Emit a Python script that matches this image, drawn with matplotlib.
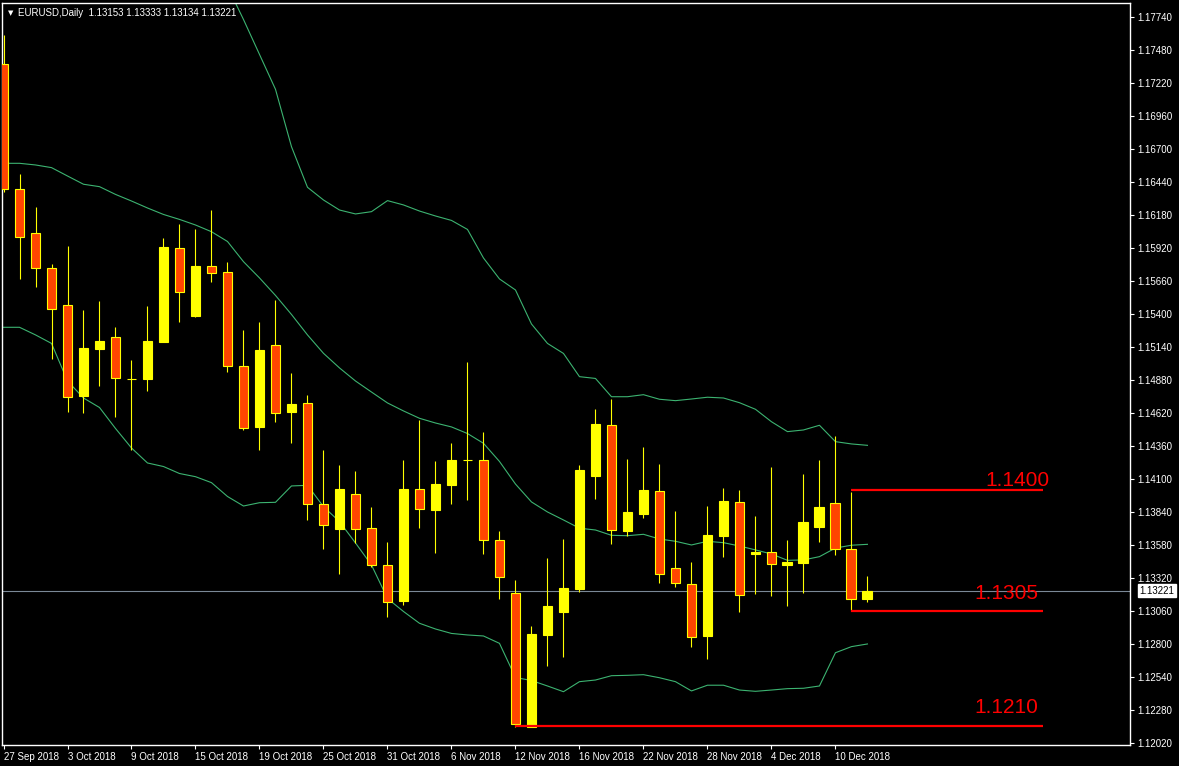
import numpy as np
import matplotlib.pyplot as plt
import matplotlib.transforms as mtransforms

# EURUSD daily, 27 Sep 2018 - 12 Dec 2018
opens = [1.17367, 1.16382, 1.16036, 1.15760, 1.15469, 1.14756, 1.15127, 1.15216, 1.14888, 1.14888,
         1.15179, 1.15918, 1.15384, 1.15776, 1.15728, 1.14988, 1.14510, 1.15153, 1.14630, 1.14696,
         1.13901, 1.13708, 1.13979, 1.13711, 1.13420, 1.13141, 1.14019, 1.13858, 1.14055, 1.14247,
         1.14247, 1.13617, 1.13199, 1.12148, 1.12873, 1.13054, 1.13233, 1.14126, 1.14523, 1.13693,
         1.13827, 1.14003, 1.13396, 1.13270, 1.12863, 1.13653, 1.13916, 1.13511, 1.13522, 1.13425,
         1.13440, 1.13724, 1.13908, 1.13546, 1.13153]
highs = [1.17598, 1.16503, 1.16243, 1.15794, 1.15936, 1.15431, 1.15502, 1.15297, 1.15038, 1.15463,
         1.15999, 1.16109, 1.16070, 1.16219, 1.15810, 1.15274, 1.15337, 1.15510, 1.14933, 1.14762,
         1.14328, 1.14210, 1.14163, 1.13879, 1.13604, 1.14250, 1.14565, 1.14242, 1.14384, 1.15022,
         1.14470, 1.13690, 1.13304, 1.12942, 1.13478, 1.13627, 1.14210, 1.14651, 1.14730, 1.14258,
         1.14352, 1.14218, 1.13848, 1.13446, 1.13887, 1.14029, 1.14013, 1.13808, 1.14192, 1.13619,
         1.14139, 1.14250, 1.14439, 1.14000, 1.13333]
lows = [1.16364, 1.15678, 1.15615, 1.15048, 1.14630, 1.14622, 1.14835, 1.14591, 1.14328, 1.14796,
        1.15179, 1.15339, 1.15379, 1.15654, 1.14945, 1.14486, 1.14328, 1.14551, 1.14386, 1.13777,
        1.13551, 1.13354, 1.13593, 1.13409, 1.13015, 1.13107, 1.13716, 1.13519, 1.13905, 1.13937,
        1.13511, 1.13157, 1.12148, 1.12148, 1.12629, 1.12700, 1.13212, 1.13945, 1.13590, 1.13651,
        1.13795, 1.13283, 1.13251, 1.12779, 1.12679, 1.13488, 1.13054, 1.13196, 1.13180, 1.13102,
        1.13204, 1.13606, 1.13504, 1.13062, 1.13134]
closes = [1.16382, 1.16009, 1.15760, 1.15437, 1.14748, 1.15130, 1.15187, 1.14893, 1.14888, 1.15187,
          1.15928, 1.15576, 1.15778, 1.15725, 1.14993, 1.14504, 1.15116, 1.14622, 1.14691, 1.13901,
          1.13735, 1.14019, 1.13708, 1.13420, 1.13128, 1.14019, 1.13861, 1.14058, 1.14250, 1.14247,
          1.13617, 1.13330, 1.12167, 1.12879, 1.13099, 1.13241, 1.14171, 1.14533, 1.13696, 1.13838,
          1.14013, 1.13349, 1.13278, 1.12857, 1.13659, 1.13927, 1.13184, 1.13525, 1.13428, 1.13448,
          1.13759, 1.13879, 1.13546, 1.13157, 1.13221]

# Bandas de Bollinger
bb_upper = [1.17879, 1.17879, 1.17913, 1.17938, 1.18102, 1.18106, 1.18143, 1.18186, 1.18236, 1.18244,
            1.18170, 1.18147, 1.18084, 1.18025, 1.17980, 1.17720, 1.17445, 1.17170, 1.16718, 1.16398,
            1.16298, 1.16219, 1.16188, 1.16206, 1.16293, 1.16259, 1.16211, 1.16172, 1.16137, 1.16066,
            1.15841, 1.15676, 1.15589, 1.15321, 1.15168, 1.15089, 1.14906, 1.14892, 1.14748, 1.14748,
            1.14764, 1.14728, 1.14717, 1.14730, 1.14744, 1.14738, 1.14701, 1.14649, 1.14551, 1.14473,
            1.14486, 1.14523, 1.14394, 1.14376, 1.14365]
bb_mid = [1.16587, 1.16587, 1.16574, 1.16553, 1.16487, 1.16422, 1.16403, 1.16342, 1.16290, 1.16235,
          1.16184, 1.16145, 1.16101, 1.16048, 1.15971, 1.15812, 1.15684, 1.15546, 1.15396, 1.15235,
          1.15090, 1.14975, 1.14872, 1.14785, 1.14699, 1.14636, 1.14578, 1.14541, 1.14510, 1.14458,
          1.14381, 1.14238, 1.14060, 1.13919, 1.13840, 1.13777, 1.13712, 1.13698, 1.13656, 1.13653,
          1.13664, 1.13627, 1.13609, 1.13580, 1.13609, 1.13598, 1.13572, 1.13541, 1.13509, 1.13459,
          1.13462, 1.13488, 1.13556, 1.13578, 1.13585]
bb_lower = [1.15295, 1.15295, 1.15235, 1.15168, 1.14872, 1.14738, 1.14663, 1.14498, 1.14344, 1.14226,
            1.14198, 1.14143, 1.14118, 1.14071, 1.13962, 1.13887, 1.13913, 1.13916, 1.14045, 1.14050,
            1.13882, 1.13764, 1.13596, 1.13422, 1.13158, 1.13056, 1.12963, 1.12918, 1.12883, 1.12871,
            1.12863, 1.12805, 1.12536, 1.12512, 1.12469, 1.12424, 1.12503, 1.12516, 1.12550, 1.12553,
            1.12558, 1.12534, 1.12503, 1.12430, 1.12475, 1.12475, 1.12437, 1.12427, 1.12437, 1.12448,
            1.12451, 1.12469, 1.12731, 1.12779, 1.12800]

date_labels = ['27 Sep 2018', '3 Oct 2018', '9 Oct 2018', '15 Oct 2018', '19 Oct 2018', '25 Oct 2018',
               '31 Oct 2018', '6 Nov 2018', '12 Nov 2018', '16 Nov 2018', '22 Nov 2018', '28 Nov 2018',
               '4 Dec 2018', '10 Dec 2018']
y_ticks = ['1.12020', '1.12280', '1.12540', '1.12800', '1.13060', '1.13320', '1.13580', '1.13840',
           '1.14100', '1.14360', '1.14620', '1.14880', '1.15140', '1.15400', '1.15660', '1.15920',
           '1.16180', '1.16440', '1.16700', '1.16960', '1.17220', '1.17480', '1.17740']

# Niveis marcados (preco, barra inicial, texto)
niveis = [(1.14010, 53, '1.1400'), (1.13062, 53, '1.1305'), (1.12150, 32, '1.1210')]
preco_atual = 1.13221

plt.rcParams['font.family'] = ['Liberation Sans', 'DejaVu Sans']

fig = plt.figure(figsize=(11.79, 7.66), dpi=100, facecolor='black')
ax = fig.add_axes([2 / 1179, 21 / 766, 1128 / 1179, 742 / 766])
ax.set_facecolor('black')

o = np.array(opens)
c = np.array(closes)
x = np.arange(len(o))
alta = c >= o

ax.vlines(x, lows, highs, color='yellow', lw=0.8, zorder=2)
ax.bar(x[alta], (c - o)[alta], bottom=o[alta], width=0.62, color='yellow',
       edgecolor='yellow', lw=0.8, zorder=3)
ax.bar(x[~alta], (c - o)[~alta], bottom=o[~alta], width=0.62, color='#FF4500',
       edgecolor='yellow', lw=0.8, zorder=3)

for serie in (bb_upper, bb_mid, bb_lower):
    ax.plot(x, serie, color='#3CB371', lw=0.8, zorder=1)

# linha do preco atual
ax.axhline(preco_atual, color='#7A8896', lw=0.8, zorder=1)

# linhas horizontais vermelhas + textos
fim = 65.0
pos_texto = {'1.1400': (65.4, 1.14047), '1.1305': (64.7, 1.13154), '1.1210': (64.7, 1.12254)}
for preco, ini, txt in niveis:
    ax.hlines(preco, ini, fim, color='#FF0000', lw=1.6, zorder=4)
    tx, ty = pos_texto[txt]
    ax.text(tx, ty, txt, color='#FF0000', fontsize=15, ha='right', va='baseline', zorder=5)

ax.set_xlim(-0.094, 70.41)
ax.set_ylim(1.12004, 1.17850)

ax.set_xticks(np.arange(0, len(o), 4))
ax.set_xticklabels(date_labels)
off = mtransforms.ScaledTranslation(1 / 100, 0, fig.dpi_scale_trans)
for lab in ax.get_xticklabels():
    lab.set_horizontalalignment('left')
    lab.set_transform(lab.get_transform() + off)

ax.yaxis.tick_right()
ax.set_yticks([float(v) for v in y_ticks])
ax.set_yticklabels(y_ticks)
ax.tick_params(colors='white', labelsize=7, length=3, width=0.8, pad=2)
for sp in ax.spines.values():
    sp.set_color('white')
    sp.set_linewidth(1)

# rotulo do preco atual no eixo
ax.annotate(f'{preco_atual:.5f}', xy=(1.0, preco_atual), xycoords=('axes fraction', 'data'),
            xytext=(7, 0), textcoords='offset points', ha='left', va='center',
            fontsize=7, color='black',
            bbox=dict(boxstyle='square,pad=0.15', fc='white', ec='white'), annotation_clip=False)

# titulo no canto
ax.text(0.005, 0.987, '\u25BC', transform=ax.transAxes, color='white', fontsize=5,
        va='center', ha='left', family=['DejaVu Sans'])
ax.text(0.014, 0.987, 'EURUSD,Daily  1.13153 1.13333 1.13134 1.13221', transform=ax.transAxes,
        color='white', fontsize=7, va='center', ha='left')

plt.savefig('out.png', dpi=100, facecolor='black')
